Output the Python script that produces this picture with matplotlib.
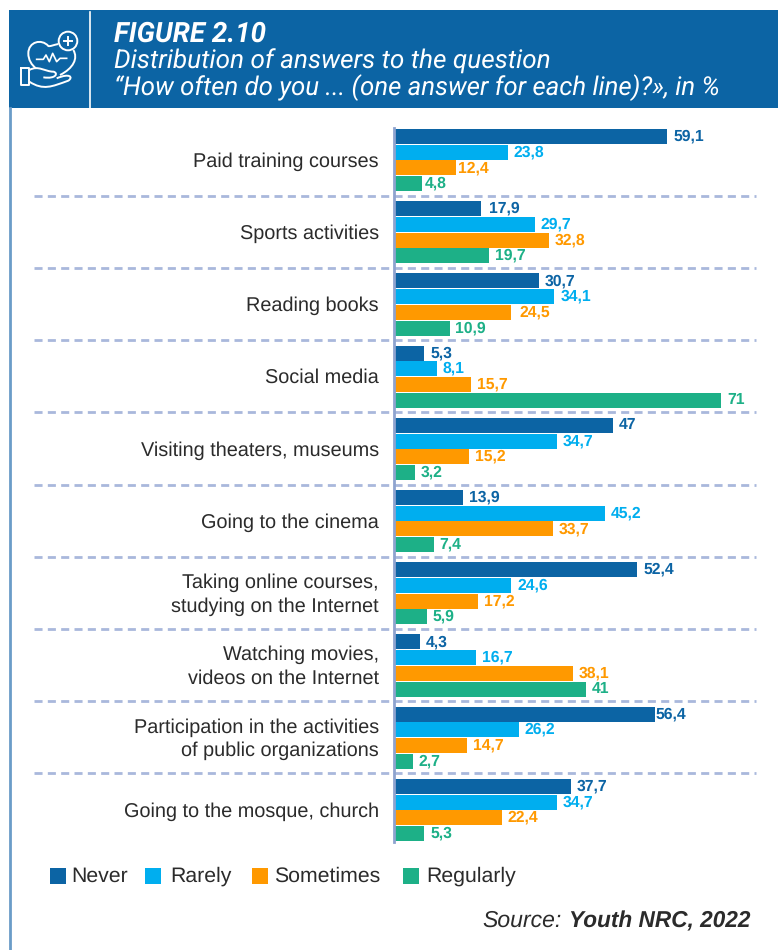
import matplotlib
matplotlib.use("Agg")
import matplotlib.pyplot as plt
from matplotlib.patches import Rectangle, Circle, PathPatch
from matplotlib.path import Path
from matplotlib.transforms import ScaledTranslation

# ------------------ DATA ------------------ #
categories = [
    "Paid training courses",
    "Sports activities",
    "Reading books",
    "Social media",
    "Visiting theaters, museums",
    "Going to the cinema",
    "Taking online courses,\nstudying on the Internet",
    "Watching movies,\nvideos on the Internet",
    "Participation in the activities\nof public organizations",
    "Going to the mosque, church",
]
never = [59.1, 17.9, 30.7, 5.3, 47, 13.9, 52.4, 4.3, 56.4, 37.7]
rarely = [23.8, 29.7, 34.1, 8.1, 34.7, 45.2, 24.6, 16.7, 26.2, 34.7]
sometimes = [12.4, 32.8, 24.5, 15.7, 15.2, 33.7, 17.2, 38.1, 14.7, 22.4]
regularly = [4.8, 19.7, 10.9, 71, 3.2, 7.4, 5.9, 41, 2.7, 5.3]
series_names = ["Never", "Rarely", "Sometimes", "Regularly"]

# ------------------ STYLE ------------------ #
W, H = 778, 950
BLUE = "#0C64A4"
SKY = "#00AEEF"
ORANGE = "#FF9900"
GREEN = "#1DB087"
colors = [BLUE, SKY, ORANGE, GREEN]
TEXT = "#2B2B2B"
plt.rcParams["font.family"] = ["Liberation Sans", "DejaVu Sans"]
plt.rcParams["text.hinting"] = "no_hinting"

fig = plt.figure(figsize=(W / 100, H / 100), dpi=100, facecolor="white")

# overlay in pixel coordinates for the header, separators and legend
bg = fig.add_axes([0, 0, 1, 1], zorder=0)
bg.set_xlim(0, W)
bg.set_ylim(H, 0)
bg.axis("off")

bg.add_patch(Rectangle((9, 10), W - 9, 98, color=BLUE, lw=0))
bg.plot([90, 90], [12, 108], color="white", lw=1.2)
bg.plot([10, 10], [108, H], color="#6A9CC8", lw=2)

bg.text(114, 42, "FIGURE 2.10", color="white", fontsize=20, fontweight="bold",
        fontstyle="italic", family="Roboto", va="baseline")
bg.text(114, 69, "Distribution of answers to the question", color="white", fontsize=18.8,
        fontstyle="italic", family="Roboto", va="baseline")
bg.text(114, 95, "“How often do you ... (one answer for each line)?», in %", color="white",
        fontsize=18.5, fontstyle="italic", family="Roboto", va="baseline")


# ------------------ ICON ------------------ #
def icon_xy(points):
    return [(x / 3 + 10, y / 3 + 20) for x, y in points]


def icon_curve(points):
    codes = [Path.MOVETO] + [Path.CURVE4] * (len(points) - 1)
    bg.add_patch(PathPatch(Path(icon_xy(points), codes), fill=False, ec="white", lw=1.4))


bg.add_patch(Circle((68, 41), 9.3, fill=False, ec="white", lw=1.4))
bg.plot([64, 72], [41, 41], color="white", lw=1.4)
bg.plot([68, 68], [37, 45], color="white", lw=1.4)
icon_curve([(145, 72), (130, 75), (120, 80), (115, 78), (95, 55), (55, 65), (55, 100),
            (55, 120), (65, 135), (78, 145)])
icon_curve([(190, 90), (205, 115), (190, 145), (150, 165)])
pulse = icon_xy([(80, 118), (100, 118), (108, 105), (118, 125), (128, 100), (140, 125),
                 (150, 115), (170, 115)])
bg.plot([p[0] for p in pulse], [p[1] for p in pulse], color="white", lw=1.2)
cuff = icon_xy([(33, 143), (58, 143), (58, 195), (33, 195), (33, 143)])
bg.plot([p[0] for p in cuff], [p[1] for p in cuff], color="white", lw=1.4)
icon_curve([(58, 150), (85, 135), (105, 155), (130, 155), (145, 158), (140, 178), (100, 172)])
icon_curve([(58, 185), (100, 212), (125, 200), (175, 182), (190, 172), (180, 158), (140, 175)])

# separators between the groups
for i in range(len(categories) - 1):
    sep_y = 195.8 + 72.2 * i
    bg.plot([34, 756], [sep_y, sep_y], color="#A9B8DC", lw=2, dashes=(2.9, 1.9))

# ------------------ BARS ------------------ #
# axes: 72.2 px per group, 4.52 px per percent, zero at x=400.3, bars start a bit before it
ax_left, ax_right = 394, 778
ax = fig.add_axes([ax_left / W, 1 - 846 / H, (ax_right - ax_left) / W, 722 / H], zorder=1)
ax.patch.set_alpha(0)
x_start = (ax_left - 400.3) / 4.52
ax.set_xlim(x_start, x_start + (ax_right - ax_left) / 4.52)
ax.set_ylim(len(categories) - 0.5, -0.5)

offsets = [-0.326, -0.109, 0.109, 0.326]
all_series = [never, rarely, sometimes, regularly]
# labels that sit closer to or further from their bar, in percent units (series, category)
nudges = {(2, 0): -0.9, (3, 0): -0.7, (0, 8): -1.3, (0, 1): 0.4, (2, 2): 0.6}
for s, (values, off, color) in enumerate(zip(all_series, offsets, colors)):
    for i, v in enumerate(values):
        ax.barh(i + off, v - x_start, left=x_start, height=0.208, color=color, lw=0)
        label = f"{v:g}".replace(".", ",")
        ax.text(v + 1.3 + nudges.get((s, i), 0), i + off, label, color=color, fontsize=11.3,
                fontweight="bold", va="center", ha="left")

ax.set_yticks(range(len(categories)))
ax.set_yticklabels(categories, fontsize=14.3, color=TEXT, linespacing=1.33)
ax.tick_params(axis="y", length=0, pad=10.8)
for lab in ax.get_yticklabels():
    shift = 3.2 if "\n" in lab.get_text() else 0.8
    lab.set_transform(lab.get_transform() + ScaledTranslation(0, shift / 100, fig.dpi_scale_trans))
ax.set_xticks([])
for side in ["top", "right", "bottom"]:
    ax.spines[side].set_visible(False)
ax.spines["left"].set_color("#8EA3CF")
ax.spines["left"].set_linewidth(2)
ax.spines["left"].set_bounds(-0.45, len(categories) - 0.55)

# ------------------ LEGEND ------------------ #
swatches = [50, 145, 252, 403]
text_x = [71, 170, 274, 426]
for sx, tx, name, color in zip(swatches, text_x, series_names, colors):
    bg.add_patch(Rectangle((sx, 868), 16, 16, color=color, lw=0))
    bg.text(tx, 876, name, fontsize=15.3, color=TEXT, va="center")

# ------------------ SOURCE ------------------ #
bg.text(750, 921, "Youth NRC, 2022", fontsize=16.3, fontweight="bold", fontstyle="italic",
        color=TEXT, va="center", ha="right")
bg.text(562, 921, "Source:", fontsize=16.6, fontstyle="italic", color=TEXT, va="center", ha="right")

fig.savefig("out.png", dpi=100)
